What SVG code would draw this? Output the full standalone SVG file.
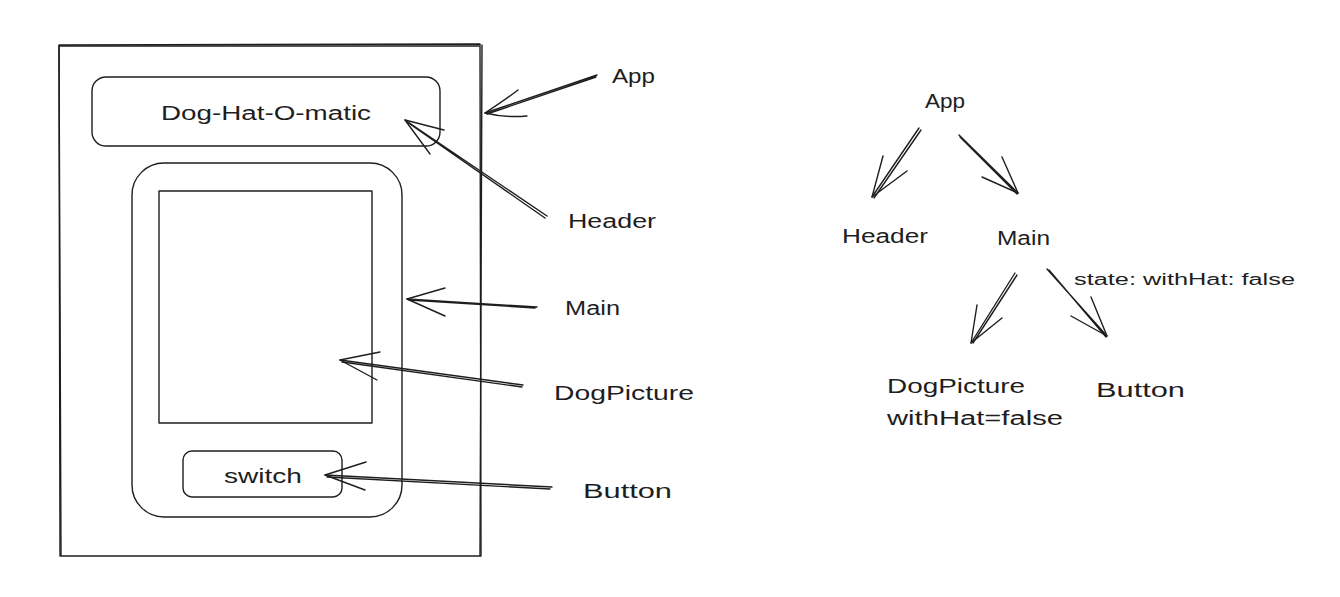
<svg xmlns="http://www.w3.org/2000/svg" width="1340" height="597" viewBox="0 0 1340 597">
<style>
.s{fill:none;stroke:#1e1e1e;stroke-width:1.4;stroke-linecap:round;stroke-linejoin:round}
.t{font-family:"Liberation Sans","DejaVu Sans",sans-serif;font-size:20px;fill:#1e1e1e}
.ts{font-family:"Liberation Sans","DejaVu Sans",sans-serif;font-size:16px;fill:#1e1e1e}
</style>
<rect width="1340" height="597" fill="#ffffff"/>
<g id="app-frame">
<path class="s" d="M59 45 L480 44 L481 556 L60 556 Z"/>
<path class="s" d="M60 46 L479 46 M482 45 L480 555 M61 555 L59 46" stroke-width="0.8"/>
</g>
<g id="header-box">
<rect class="s" x="92" y="77" width="348" height="69" rx="14"/>
<text class="t" x="266" y="120" text-anchor="middle" textLength="210" lengthAdjust="spacingAndGlyphs">Dog-Hat-O-matic</text>
</g>
<g id="main-box">
<rect class="s" x="132" y="163" width="270" height="354" rx="32"/>
</g>
<g id="picture-box">
<rect class="s" x="159" y="191" width="213" height="232"/>
</g>
<g id="switch-button">
<rect class="s" x="183" y="451" width="159" height="46" rx="9"/>
<text class="t" x="263" y="483" text-anchor="middle" textLength="78" lengthAdjust="spacingAndGlyphs">switch</text>
</g>
<g id="label-app"><text class="t" x="612" y="83" textLength="43" lengthAdjust="spacingAndGlyphs">App</text></g>
<g id="label-header"><text class="t" x="568" y="228" textLength="88" lengthAdjust="spacingAndGlyphs">Header</text></g>
<g id="label-main"><text class="t" x="565" y="315" textLength="55" lengthAdjust="spacingAndGlyphs">Main</text></g>
<g id="label-dogpicture"><text class="t" x="554" y="400" textLength="140" lengthAdjust="spacingAndGlyphs">DogPicture</text></g>
<g id="label-button"><text class="t" x="583" y="498" textLength="89" lengthAdjust="spacingAndGlyphs">Button</text></g>
<g id="tree-app"><text class="t" x="925" y="108" textLength="40" lengthAdjust="spacingAndGlyphs">App</text></g>
<g id="tree-header"><text class="t" x="842" y="243" textLength="86" lengthAdjust="spacingAndGlyphs">Header</text></g>
<g id="tree-main"><text class="t" x="997" y="245" textLength="53" lengthAdjust="spacingAndGlyphs">Main</text></g>
<g id="tree-dogpicture">
<text class="t" x="887" y="393" textLength="138" lengthAdjust="spacingAndGlyphs">DogPicture</text>
<text class="t" x="887" y="425" textLength="176" lengthAdjust="spacingAndGlyphs">withHat=false</text>
</g>
<g id="tree-button"><text class="t" x="1096" y="397" textLength="89" lengthAdjust="spacingAndGlyphs">Button</text></g>
<g id="state-label"><text class="ts" x="1074" y="285" textLength="221" lengthAdjust="spacingAndGlyphs">state: withHat: false</text></g>
<g id="connectors">
<path class="s" d="M597 75 L485 113 M596 77 L487 114"/>
<path class="s" d="M485 113 Q505 100 518 90 M485 113 Q505 118 527 116"/>
<path class="s" d="M547 216 L405 120 M545 218 L407 122"/>
<path class="s" d="M405 120 L444 130 M405 120 L430 154"/>
<path class="s" d="M537 307 L407 299 M535 308 L409 300"/>
<path class="s" d="M407 299 L445 288 M407 299 L445 316"/>
<path class="s" d="M523 385 L340 360 M522 387 L342 362"/>
<path class="s" d="M340 360 L380 352 M340 360 L377 380"/>
<path class="s" d="M552 487 L325 475 M550 489 L327 477"/>
<path class="s" d="M325 475 L366 462 M325 475 L365 490"/>
<path class="s" d="M919 128 L872 197 M921 130 L874 198"/>
<path class="s" d="M872 197 L883 156 M872 197 L907 171"/>
<path class="s" d="M959 135 L1018 193 M960 137 L1017 194"/>
<path class="s" d="M1018 193 L1002 157 M1018 193 L982 177"/>
<path class="s" d="M1015 273 L971 343 M1017 275 L973 343"/>
<path class="s" d="M971 343 L977 305 M971 343 L1002 318"/>
<path class="s" d="M1047 269 L1107 336 M1049 270 L1106 337"/>
<path class="s" d="M1107 336 L1091 297 M1107 336 L1071 316"/>
</g>
</svg>
